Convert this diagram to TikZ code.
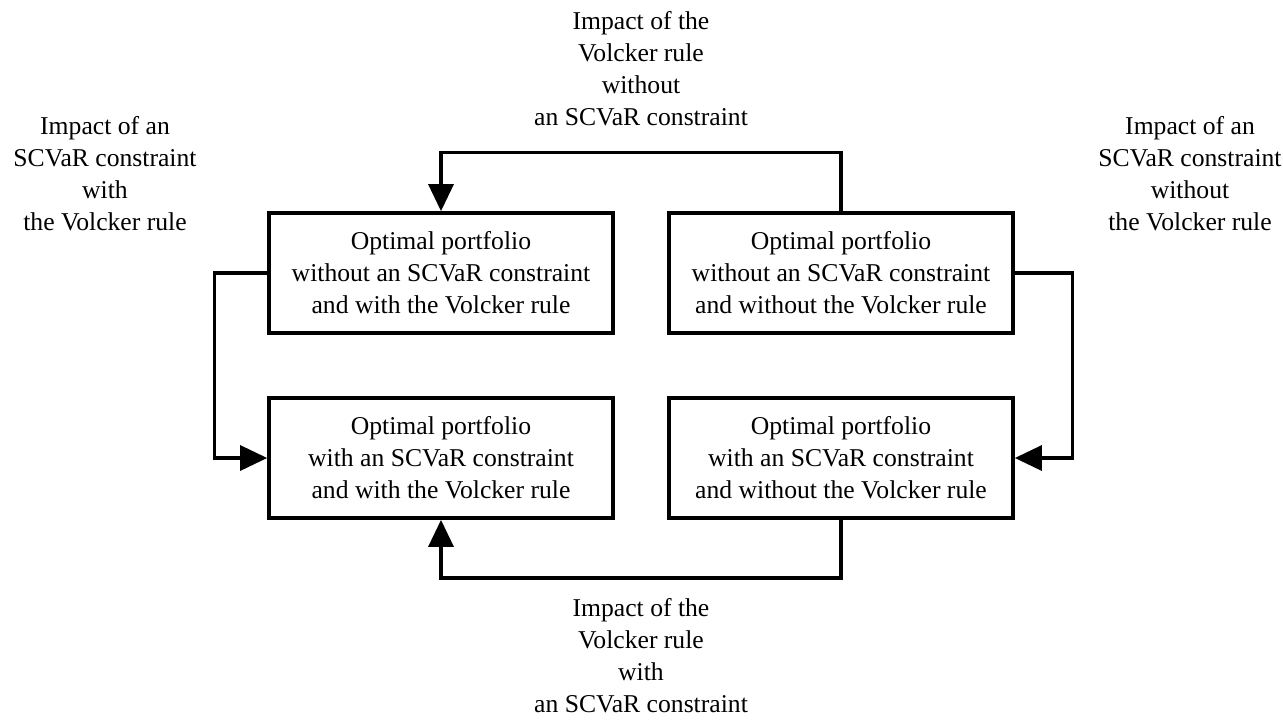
\documentclass[tikz,border=0pt]{standalone}
\usepackage{fontspec}
\setmainfont{Liberation Serif}
\usetikzlibrary{arrows.meta}

\tikzset{
  portbox/.style={draw, line width=0.075cm, minimum width=6.88cm, minimum height=2.4cm,
    align=center, inner sep=0pt, font=\fontsize{14.6}{18.2}\selectfont},
  impact/.style={align=center, inner sep=0pt, font=\fontsize{14.6}{18.2}\selectfont},
  link/.style={line width=0.065cm, -{Triangle[length=0.54cm,width=0.5cm]}}
}

\begin{document}
\begin{tikzpicture}[x=0.02cm,y=-0.02cm]
  \useasboundingbox (0,0) rectangle (1283,725);

  % the four portfolios
  \node[portbox] (tl) at (441,273) {Optimal portfolio\\without an SCVaR constraint\\and with the Volcker rule};
  \node[portbox] (tr) at (841,273) {Optimal portfolio\\without an SCVaR constraint\\and without the Volcker rule};
  \node[portbox] (bl) at (441,458) {Optimal portfolio\\with an SCVaR constraint\\and with the Volcker rule};
  \node[portbox] (br) at (841,458) {Optimal portfolio\\with an SCVaR constraint\\and without the Volcker rule};

  % impacts
  \node[impact] (topimp) at (641,69) {Impact of the\\Volcker rule\\without\\an SCVaR constraint};
  \node[impact] (botimp) at (641,656) {Impact of the\\Volcker rule\\with\\an SCVaR constraint};
  \node[impact] (leftimp) at (105,174) {Impact of an\\SCVaR constraint\\with\\the Volcker rule};
  \node[impact] (rightimp) at (1190,174) {Impact of an\\SCVaR constraint\\without\\the Volcker rule};

  \draw[link] (tr.north) -- ++(0,-59) -| (tl.north);
  \draw[link] (tl.west) -- ++(-53,0) |- (bl.west);
  \draw[link] (tr.east) -- ++(58,0) |- (br.east);
  \draw[link] (br.south) -- ++(0,58) -| (bl.south);
\end{tikzpicture}
\end{document}
